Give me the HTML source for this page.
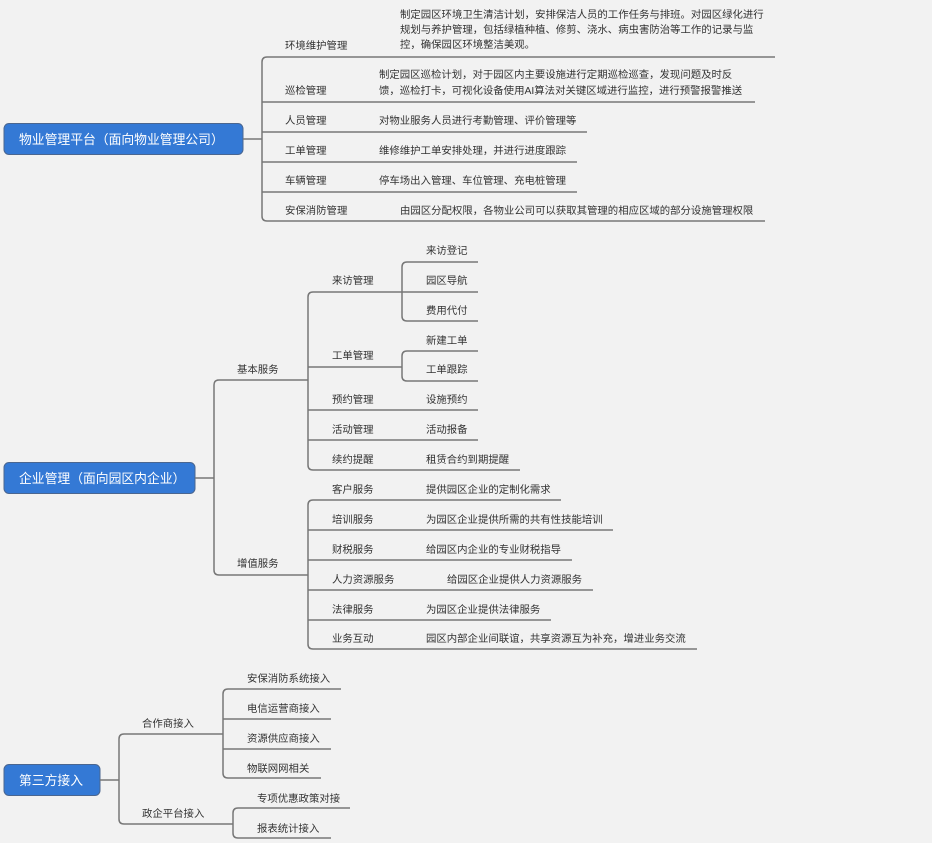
<!DOCTYPE html>
<html><head><meta charset="utf-8"><style>
html,body{margin:0;padding:0;background:#f2f2f2;}
svg{display:block;}
text{font-family:"Liberation Sans","Noto Sans CJK SC",sans-serif;font-size:10.4px;fill:#333;}
.r{font-size:12.8px;fill:#fff;}
.l{stroke:#777;stroke-width:1.5;fill:none;}
</style></head><body>
<svg width="932" height="843" viewBox="0 0 932 843" xmlns="http://www.w3.org/2000/svg">
<rect x="0" y="0" width="932" height="843" fill="#f2f2f2"/>
<!-- Section 1 -->
<rect x="4" y="123.5" width="239" height="31" rx="5" fill="#3479d5" stroke="#4a6690" stroke-width="1"/>
<text class="r" x="19" y="144">物业管理平台（面向物业管理公司）</text>
<path class="l" d="M243 139 H262"/>
<path class="l" d="M775 57 H267 Q262 57 262 62 V216 Q262 221 267 221 H765"/>
<path class="l" d="M262 102 H755 M262 132 H587 M262 162 H577 M262 192 H577"/>
<text x="285" y="49">环境维护管理</text>
<text x="400" y="18">制定园区环境卫生清洁计划，安排保洁人员的工作任务与排班。对园区绿化进行</text>
<text x="400" y="33">规划与养护管理，包括绿植种植、修剪、浇水、病虫害防治等工作的记录与监</text>
<text x="400" y="48">控，确保园区环境整洁美观。</text>
<text x="285" y="94">巡检管理</text>
<text x="379" y="78">制定园区巡检计划，对于园区内主要设施进行定期巡检巡查，发现问题及时反</text>
<text x="379" y="94">馈，巡检打卡，可视化设备使用AI算法对关键区域进行监控，进行预警报警推送</text>
<text x="285" y="124">人员管理</text>
<text x="379" y="124">对物业服务人员进行考勤管理、评价管理等</text>
<text x="285" y="154">工单管理</text>
<text x="379" y="154">维修维护工单安排处理，并进行进度跟踪</text>
<text x="285" y="184">车辆管理</text>
<text x="379" y="184">停车场出入管理、车位管理、充电桩管理</text>
<text x="285" y="214">安保消防管理</text>
<text x="400" y="214">由园区分配权限，各物业公司可以获取其管理的相应区域的部分设施管理权限</text>

<!-- Section 2 -->
<rect x="4" y="462.5" width="191" height="31" rx="5" fill="#3479d5" stroke="#4a6690" stroke-width="1"/>
<text class="r" x="19" y="483">企业管理（面向园区内企业）</text>
<path class="l" d="M195 478 H214"/>
<path class="l" d="M308 380 H219 Q214 380 214 385 V570 Q214 575 219 575 H308"/>
<text x="237" y="373">基本服务</text>
<text x="237" y="567">增值服务</text>
<!-- basic -->
<path class="l" d="M402 292 H313 Q308 292 308 297 V465 Q308 470 313 470 H520"/>
<path class="l" d="M308 367 H402 M308 410 H478 M308 440 H478"/>
<text x="332" y="284">来访管理</text>
<text x="332" y="359">工单管理</text>
<text x="332" y="403">预约管理</text>
<text x="332" y="433">活动管理</text>
<text x="332" y="463">续约提醒</text>
<path class="l" d="M478 262 H407 Q402 262 402 267 V316 Q402 321 407 321 H478 M402 292 H478"/>
<path class="l" d="M478 351 H407 Q402 351 402 356 V376 Q402 381 407 381 H478"/>
<text x="426" y="254">来访登记</text>
<text x="426" y="284">园区导航</text>
<text x="426" y="314">费用代付</text>
<text x="426" y="344">新建工单</text>
<text x="426" y="373">工单跟踪</text>
<text x="426" y="403">设施预约</text>
<text x="426" y="433">活动报备</text>
<text x="426" y="463">租赁合约到期提醒</text>
<!-- value added -->
<path class="l" d="M561 500 H313 Q308 500 308 505 V644 Q308 649 313 649 H697"/>
<path class="l" d="M308 530 H613 M308 560 H572 M308 590 H593 M308 620 H551"/>
<text x="332" y="493">客户服务</text>
<text x="426" y="493">提供园区企业的定制化需求</text>
<text x="332" y="523">培训服务</text>
<text x="426" y="523">为园区企业提供所需的共有性技能培训</text>
<text x="332" y="553">财税服务</text>
<text x="426" y="553">给园区内企业的专业财税指导</text>
<text x="332" y="583">人力资源服务</text>
<text x="447" y="583">给园区企业提供人力资源服务</text>
<text x="332" y="613">法律服务</text>
<text x="426" y="613">为园区企业提供法律服务</text>
<text x="332" y="642">业务互动</text>
<text x="426" y="642">园区内部企业间联谊，共享资源互为补充，增进业务交流</text>

<!-- Section 3 -->
<rect x="4" y="764.5" width="96" height="31" rx="5" fill="#3479d5" stroke="#4a6690" stroke-width="1"/>
<text class="r" x="19" y="785">第三方接入</text>
<path class="l" d="M100 780 H119"/>
<path class="l" d="M223 734 H124 Q119 734 119 739 V819 Q119 824 124 824 H233"/>
<text x="142" y="727">合作商接入</text>
<text x="142" y="817">政企平台接入</text>
<path class="l" d="M341 689 H228 Q223 689 223 694 V773 Q223 778 228 778 H321 M223 719 H331 M223 749 H331"/>
<text x="247" y="682">安保消防系统接入</text>
<text x="247" y="712">电信运营商接入</text>
<text x="247" y="742">资源供应商接入</text>
<text x="247" y="772">物联网网相关</text>
<path class="l" d="M350 808 H238 Q233 808 233 813 V833 Q233 838 238 838 H331"/>
<text x="257" y="802">专项优惠政策对接</text>
<text x="257" y="832">报表统计接入</text>
</svg>
</body></html>
